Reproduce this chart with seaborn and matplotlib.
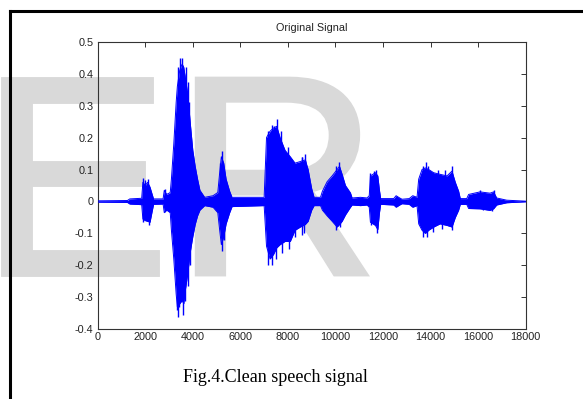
import numpy as np
import pandas as pd
import matplotlib
matplotlib.use("Agg")
import matplotlib.pyplot as plt
import matplotlib.patheffects as pe
import seaborn as sns
from matplotlib.lines import Line2D

# ---- data: envelope of the waveform ----
env_sample = [0, 1250, 1350, 1850, 1900, 2000, 2100, 2200, 2300, 2350, 2750, 2800, 2900, 3050,
              3100, 3200, 3300, 3350, 3450, 3550, 3620, 3680, 3780, 3900, 4000, 4100, 4200, 4300,
              4500, 4850, 5050, 5130, 5200, 5300, 5400, 5550, 5650, 7000, 7100, 7250, 7400, 7530,
              7670, 7880, 8100, 8300, 8520, 8730, 8850, 9000, 9100, 9370, 9450, 9650, 9860, 10070,
              10170, 10280, 10420, 10630, 10700, 11050, 11330, 11420, 11470, 11680, 11780, 11850,
              11900, 12450, 12550, 12700, 12800, 13100, 13250, 13430, 13500, 13640, 13780, 13920,
              14130, 14400, 14690, 14900, 15040, 15180, 15250, 15520, 15600, 16080, 16500, 16650,
              16780, 17200, 18000]
env_upper = [0.002, 0.003, 0.008, 0.01, 0.06, 0.05, 0.06, 0.045, 0.02, 0.008, 0.008, 0.035, 0.022, 0.028,
             0.07, 0.18, 0.31, 0.36, 0.41, 0.43, 0.42, 0.39, 0.34, 0.24, 0.16, 0.11, 0.07, 0.035,
             0.013, 0.018, 0.028, 0.09, 0.14, 0.12, 0.07, 0.032, 0.013, 0.013, 0.2, 0.22, 0.23, 0.235,
             0.2, 0.16, 0.14, 0.12, 0.125, 0.13, 0.1, 0.04, 0.013, 0.013, 0.032, 0.062, 0.08, 0.1,
             0.11, 0.085, 0.05, 0.027, 0.011, 0.013, 0.011, 0.018, 0.08, 0.09, 0.08, 0.035,
             0.009, 0.009, 0.018, 0.011, 0.007, 0.009, 0.018, 0.013, 0.07, 0.1, 0.105, 0.1,
             0.09, 0.085, 0.08, 0.095, 0.06, 0.032, 0.009, 0.009, 0.022, 0.03, 0.026, 0.03,
             0.011, 0.004, 0.001]
env_lower = [-0.002, -0.003, -0.008, -0.01, -0.055, -0.06, -0.062, -0.065, -0.027, -0.009, -0.008, -0.035, -0.027, -0.035,
             -0.09, -0.18, -0.29, -0.33, -0.32, -0.31, -0.32, -0.28, -0.23, -0.155, -0.11, -0.072, -0.045, -0.027,
             -0.013, -0.018, -0.035, -0.09, -0.135, -0.11, -0.07, -0.035, -0.016, -0.013, -0.14, -0.18, -0.165, -0.145,
             -0.135, -0.125, -0.125, -0.09, -0.08, -0.072, -0.062, -0.027, -0.013, -0.013, -0.027, -0.045, -0.062, -0.08,
             -0.072, -0.062, -0.042, -0.018, -0.011, -0.013, -0.011, -0.018, -0.065, -0.075, -0.088, -0.035,
             -0.009, -0.011, -0.018, -0.011, -0.007, -0.009, -0.018, -0.013, -0.07, -0.09, -0.1, -0.09,
             -0.08, -0.07, -0.075, -0.08, -0.05, -0.027, -0.009, -0.009, -0.022, -0.023, -0.028, -0.023,
             -0.011, -0.004, -0.001]

# individual peaks that stick out of the envelope
spike_sample = [1908, 1992, 2120, 1920, 2060, 2176, 2826,
                3391, 3476, 3532, 3617, 3716, 3787, 3857, 3320, 3363, 3440, 3575, 3674, 3787, 3900,
                5214, 5228, 5160, 5300,
                7150, 7320, 7420, 7531, 7700, 8020, 8591, 8732, 7180, 7320, 7503, 7750, 8026, 8300,
                8601, 8700, 8573, 8680,
                10042, 10140, 10042, 10200,
                11441, 11721, 11600, 11749, 11500,
                13819, 13679, 13900, 14300, 14600, 14897, 13679, 13847, 14100, 14500, 14897,
                16085, 16673, 16575, 16200]
spike_value = [0.073, 0.068, 0.07, -0.063, -0.06, -0.075, 0.04,
               0.42, 0.45, 0.45, 0.40, 0.42, 0.375, 0.31, -0.34, -0.36, -0.33, -0.355, -0.31, -0.265, -0.2,
               0.158, -0.154, 0.12, -0.12,
               0.22, 0.24, 0.235, 0.257, 0.22, 0.17, 0.14, 0.15, -0.2, -0.2, -0.18, -0.16, -0.15, -0.11,
               0.14, 0.13, -0.104, -0.1,
               0.11, 0.125, -0.089, -0.08,
               0.089, 0.099, 0.095, -0.1, -0.075,
               0.122, 0.11, 0.11, 0.1, 0.1, 0.111, -0.111, -0.11, -0.095, -0.085, -0.09,
               0.036, 0.036, -0.031, -0.028]

x_ticks = [0, 2000, 4000, 6000, 8000, 10000, 12000, 14000, 16000, 18000]
y_ticks = [0.5, 0.4, 0.3, 0.2, 0.1, 0.0, -0.1, -0.2, -0.3, -0.4]
y_tick_labels = ["0.5", "0.4", "0.3", "0.2", "0.1", "0", "-0.1", "-0.2", "-0.3", "-0.4"]
title = "Original Signal"
caption = "Fig.4.Clean speech signal"
watermark_letters = ["E", "R"]

# ---- style ----
sns.set_style("white")
plt.rcParams["font.family"] = ["Liberation Sans", "DejaVu Sans"]

W, H = 583, 399
fig = plt.figure(figsize=(W / 100, H / 100), dpi=100)
fig.patch.set_facecolor("white")

# watermark behind everything
wm_grey = "#d9d9d9"
for letter, left_px in zip(watermark_letters, [-20, 174]):
    fig.text(left_px / W, 1 - 274 / H, letter, fontsize=204, color=wm_grey,
             ha="left", va="baseline", zorder=-5, family="Liberation Sans",
             path_effects=[pe.withStroke(linewidth=3.5, foreground=wm_grey,
                                         joinstyle="miter")])

ax = fig.add_axes([97.7 / W, 1 - 329.3 / H, 428 / W, 287.6 / H])
ax.patch.set_alpha(0)

df = pd.DataFrame({"sample": env_sample, "upper": env_upper, "lower": env_lower})
spikes = pd.DataFrame({"sample": spike_sample, "value": spike_value})
blue = "#0000ff"
ax.fill_between(df["sample"], df["lower"], df["upper"], color=blue, linewidth=0, zorder=2)
sns.lineplot(data=df, x="sample", y="upper", ax=ax, color=blue, lw=0.7, zorder=3)
sns.lineplot(data=df, x="sample", y="lower", ax=ax, color=blue, lw=0.7, zorder=3)
ax.vlines(spikes["sample"], 0, spikes["value"], color=blue, lw=1.0, zorder=3)

ax.set_xlim(0, 18000)
ax.set_ylim(-0.4, 0.5)
ax.set_xticks(x_ticks)
ax.set_xticklabels([str(t) for t in x_ticks])
ax.set_yticks(y_ticks)
ax.set_yticklabels(y_tick_labels)
ax.set_xlabel("")
ax.set_ylabel("")
ax.tick_params(direction="in", top=True, right=True, length=3.5, width=0.7,
               labelsize=7.8, colors="#333333", labelcolor="#222222", pad=2)
ax.tick_params(axis="y", pad=3)
for s in ax.spines.values():
    s.set_visible(True)
    s.set_color("#333333")
    s.set_linewidth(0.8)
ax.set_title(title, fontsize=7.8, pad=8, color="#222222")

# caption and outer frame
fig.text(275 / W, 1 - 378 / H, caption, fontsize=13, ha="center", va="center",
         family="Liberation Serif", color="black")
fig.add_artist(Line2D([9.5 / W, 9.5 / W], [0, 1 - 11 / H], color="black", lw=2.2,
                      transform=fig.transFigure, solid_capstyle="projecting"))
fig.add_artist(Line2D([9.5 / W, 1.0], [1 - 11 / H, 1 - 11 / H], color="black", lw=2.2,
                      transform=fig.transFigure, solid_capstyle="projecting"))

fig.savefig("out.png", dpi=100)
